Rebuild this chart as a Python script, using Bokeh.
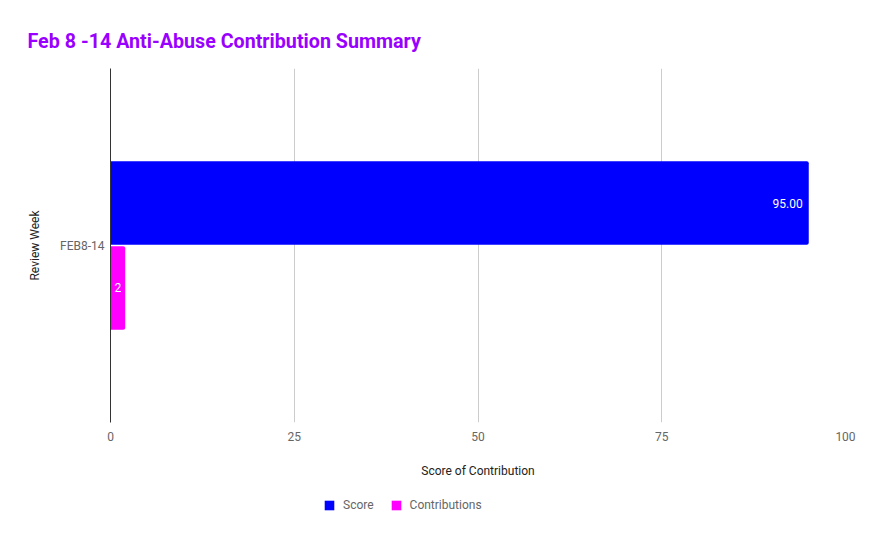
from bokeh.plotting import figure
from bokeh.models import ColumnDataSource, FactorRange, Range1d, Legend, LegendItem, Title
from bokeh.layouts import column
from bokeh.transform import dodge
from bokeh.embed import file_html
from bokeh.resources import INLINE
from bokeh.core.properties import value

weeks = ["FEB8-14"]
score = [95.0]
contributions = [2]
series_names = ["Score", "Contributions"]
score_labels = ["%.2f" % v for v in score]
contrib_labels = ["%d" % v for v in contributions]

src = ColumnDataSource(dict(week=weeks, score=score, contributions=contributions,
                            score_lbl=score_labels, contrib_lbl=contrib_labels))

FONT = "Roboto"
BLUE = "#0000ff"
MAGENTA = "#ff00ff"

p = figure(width=871, height=480, output_backend="svg", toolbar_location=None,
           y_range=FactorRange(factors=weeks, range_padding=0),
           x_range=Range1d(0, 100),
           min_border_left=110, min_border_right=26, min_border_top=68, min_border_bottom=56)
p.title = None
t = Title(text="Feb 8 -14 Anti-Abuse Contribution Summary", align="left", offset=-83, standoff=31,
          text_font=FONT, text_font_size="19.7px", text_font_style="bold", text_color="#9900ff")
p.add_layout(t, "above")

p.outline_line_color = None
p.background_fill_color = "white"

p.hbar(y=dodge("week", 0.12, range=p.y_range), right="score", height=0.236, left=0,
       source=src, fill_color=BLUE, line_color=None, border_radius=(0, 2, 2, 0))
p.hbar(y=dodge("week", -0.12, range=p.y_range), right="contributions", height=0.236, left=0,
       source=src, fill_color=MAGENTA, line_color=None, border_radius=(0, 2, 2, 0))

p.text(x="score", y=dodge("week", 0.12, range=p.y_range), text="score_lbl", source=src,
       text_align="right", text_baseline="middle", x_offset=-6, text_color="white",
       text_font=value(FONT), text_font_size="12px")
p.text(x="contributions", y=dodge("week", -0.12, range=p.y_range), text="contrib_lbl", source=src,
       text_align="right", text_baseline="middle", x_offset=-4, text_color="white",
       text_font=value(FONT), text_font_size="12px")

p.xgrid.grid_line_color = "#cccccc"
p.ygrid.grid_line_color = None
p.xaxis.ticker = [0, 25, 50, 75, 100]
p.xaxis.axis_line_color = None
p.xaxis.major_tick_line_color = None
p.xaxis.minor_tick_line_color = None
p.xaxis.major_label_text_font = FONT
p.xaxis.major_label_text_font_size = "12px"
p.xaxis.major_label_text_color = "#666666"
p.xaxis.major_label_standoff = 3
p.xaxis.axis_label = "Score of Contribution"
p.xaxis.axis_label_text_font = FONT
p.xaxis.axis_label_text_font_size = "12px"
p.xaxis.axis_label_text_font_style = "normal"
p.xaxis.axis_label_text_color = "#222222"
p.xaxis.axis_label_standoff = 20

p.yaxis.axis_line_color = "#333333"
p.yaxis.major_tick_line_color = None
p.yaxis.minor_tick_line_color = None
p.yaxis.major_label_text_font = FONT
p.yaxis.major_label_text_font_size = "12px"
p.yaxis.major_label_text_color = "#666666"
p.yaxis.major_label_standoff = 0
p.yaxis.axis_label = "Review Week"
p.yaxis.axis_label_text_font = FONT
p.yaxis.axis_label_text_font_size = "12px"
p.yaxis.axis_label_text_font_style = "normal"
p.yaxis.axis_label_text_color = "#222222"
p.yaxis.axis_label_standoff = 15

# legend strip below the chart
lf = figure(width=871, height=59, output_backend="svg", toolbar_location=None,
            x_range=Range1d(0, 1), y_range=Range1d(0, 1),
            min_border=0, min_border_left=0, min_border_right=0, min_border_top=0, min_border_bottom=0)
lf.axis.visible = False
lf.grid.visible = False
lf.outline_line_color = None
lr1 = lf.rect(x=[0], y=[0], width=0, height=0, fill_color=BLUE, line_color=None, visible=False)
lr2 = lf.rect(x=[0], y=[0], width=0, height=0, fill_color=MAGENTA, line_color=None, visible=False)
legend = Legend(items=[LegendItem(label=series_names[0], renderers=[lr1]),
                       LegendItem(label=series_names[1], renderers=[lr2])],
                orientation="horizontal", location=(213, 27),
                label_text_font=FONT, label_text_font_size="12px", label_text_color="#666666",
                glyph_width=12, glyph_height=12, spacing=16, padding=0, margin=0,
                label_standoff=8,
                border_line_color=None, background_fill_alpha=0)
lf.add_layout(legend, "center")

open("out.html", "w").write(file_html(column(p, lf, spacing=0), INLINE))
